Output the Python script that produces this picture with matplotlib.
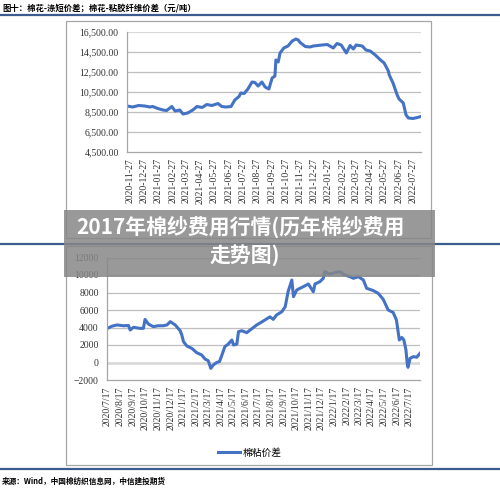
import pandas as pd
import matplotlib
matplotlib.use("Agg")
import matplotlib.pyplot as plt
from matplotlib.patches import Rectangle
from matplotlib.lines import Line2D

plt.rcParams['font.family'] = ['Liberation Serif', 'Noto Sans CJK SC']

# ---- data: cotton vs polyester staple spread (top) ----
top_dates = [
    "2020-11-21", "2020-12-03", "2020-12-16", "2020-12-29", "2021-01-09", "2021-01-15",
    "2021-01-26", "2021-02-06", "2021-02-14", "2021-02-25", "2021-03-04", "2021-03-14",
    "2021-03-21", "2021-03-31", "2021-04-11", "2021-04-20", "2021-05-01", "2021-05-11",
    "2021-05-22", "2021-06-04", "2021-06-12", "2021-06-21", "2021-07-02", "2021-07-10",
    "2021-07-19", "2021-07-23", "2021-07-30", "2021-08-07", "2021-08-16", "2021-08-22",
    "2021-08-29", "2021-09-06", "2021-09-13", "2021-09-21", "2021-09-28", "2021-10-04",
    "2021-10-06", "2021-10-11", "2021-10-15", "2021-10-23", "2021-11-01", "2021-11-10",
    "2021-11-18", "2021-11-23", "2021-11-27", "2021-12-08", "2021-12-18", "2021-12-25",
    "2022-01-04", "2022-01-13", "2022-01-24", "2022-02-06", "2022-02-14", "2022-02-23",
    "2022-03-06", "2022-03-14", "2022-03-21", "2022-03-27", "2022-04-09", "2022-04-17",
    "2022-04-26", "2022-05-07", "2022-05-17", "2022-05-26", "2022-06-04", "2022-06-06",
    "2022-06-14", "2022-06-23", "2022-06-27", "2022-07-06", "2022-07-12", "2022-07-17",
    "2022-07-27", "2022-08-05", "2022-08-13",
]
top_values = [
    9100, 9000, 9150, 9100, 9000, 9050,
    8850, 8700, 8650, 9050, 8600, 8700,
    8300, 8400, 8700, 9050, 8950, 9250,
    9150, 9350, 9050, 9000, 9050, 9700,
    10050, 10400, 10350, 10800, 11500, 11450,
    11100, 11500, 11000, 10800, 11900, 12100,
    13700, 13500, 14400, 14900, 15100, 15600,
    15800, 15700, 15450, 15050, 15000, 15100,
    15150, 15200, 15250, 14900, 15350, 15200,
    14400, 15150, 14800, 15200, 15100, 14700,
    14600, 14200, 13750, 13400, 12600, 12200,
    11400, 10200, 9800, 9400, 8200, 7900,
    7850, 7950, 8050,
]

# ---- data: cotton vs viscose spread (bottom) ----
bot_dates = [
    "2020-07-17", "2020-07-28", "2020-08-09", "2020-08-25", "2020-09-06", "2020-09-10",
    "2020-09-18", "2020-10-04", "2020-10-12", "2020-10-16", "2020-10-24", "2020-11-05",
    "2020-11-17", "2020-11-29", "2020-12-08", "2020-12-16", "2020-12-28", "2021-01-09",
    "2021-01-13", "2021-01-17", "2021-01-25", "2021-02-06", "2021-02-18", "2021-03-02",
    "2021-03-10", "2021-03-18", "2021-03-24", "2021-03-30", "2021-04-07", "2021-04-14",
    "2021-04-20", "2021-04-27", "2021-05-05", "2021-05-14", "2021-05-18", "2021-05-26",
    "2021-05-30", "2021-06-07", "2021-06-19", "2021-06-27", "2021-07-13", "2021-07-29",
    "2021-08-14", "2021-08-22", "2021-08-30", "2021-09-12", "2021-09-20", "2021-09-27",
    "2021-10-06", "2021-10-10", "2021-10-18", "2021-11-03", "2021-11-15", "2021-11-27",
    "2021-12-01", "2021-12-13", "2021-12-21", "2021-12-25", "2022-01-06", "2022-01-18",
    "2022-01-30", "2022-02-11", "2022-02-24", "2022-03-04", "2022-03-16", "2022-03-28",
    "2022-04-05", "2022-04-21", "2022-05-03", "2022-05-15", "2022-05-27", "2022-06-08",
    "2022-06-16", "2022-06-23", "2022-06-29", "2022-07-04", "2022-07-09", "2022-07-12",
    "2022-07-14", "2022-07-19", "2022-07-27", "2022-08-04", "2022-08-12",
]
bot_values = [
    3900, 4150, 4290, 4200, 4230, 3710,
    4020, 3900, 3900, 4930, 4400, 4100,
    4200, 4200, 4290, 4670, 4290, 3630,
    3140, 2380, 1890, 1620, 1120, 860,
    400, 200, -670, -290, 0, 100,
    860, 1810, 2100, 2570, 2000, 2100,
    3520, 3630, 3410, 3710, 4290, 4740,
    5220, 4930, 5430, 5810, 6380, 8090,
    9430, 7520, 8290, 8670, 8970, 8090,
    8970, 9240, 9620, 10380, 10100, 10280,
    10380, 10000, 9800, 9620, 9810, 9430,
    8480, 8220, 7900, 7220, 6000, 5720,
    4860, 2570, 2860, 2570, 1430, -90,
    -550, 480, 670, 600, 1050,
]

top_yticks = [4500, 6500, 8500, 10500, 12500, 14500, 16500]
bot_yticks = [-2000, 0, 2000, 4000, 6000, 8000, 10000, 12000]
top_xticks = pd.date_range("2020-11-27", "2022-07-27", freq=pd.DateOffset(months=1))
bot_xticks = pd.date_range("2020-07-17", "2022-07-17", freq=pd.DateOffset(months=1))

W, H = 500, 488
fig = plt.figure(figsize=(W / 100, H / 100), dpi=100)


def fx(px):
    return px / W


def fy(py):
    return 1 - py / H


blue = '#4472C4'
grid_c = '#bfbfbf'

# chart frames
for x0, y0, x1, y1 in [(66, 21, 431, 238), (66, 246, 432, 465)]:
    fig.patches.append(Rectangle((fx(x0), fy(y1)), fx(x1 - x0), (y1 - y0) / H,
                                 transform=fig.transFigure, fill=False,
                                 edgecolor='#a6a6a6', linewidth=0.9))

# blue separator lines
for py in [15, 244, 469]:
    fig.lines.append(Line2D([0, 1], [fy(py), fy(py)], transform=fig.transFigure,
                            color='#3b5c8f', linewidth=1.6))

# ---- top chart ----
ax1 = fig.add_axes([fx(127), fy(152), fx(294), 120 / H])
ax1.plot(pd.to_datetime(top_dates), top_values, color=blue, linewidth=2.2)
ax1.set_xlim(pd.Timestamp("2020-11-21"), pd.Timestamp("2022-08-13"))
ax1.set_ylim(4500, 16500)
ax1.set_yticks(top_yticks)
ax1.set_yticklabels([f"{v:,.2f}" for v in top_yticks])
ax1.set_xticks(top_xticks)
ax1.set_xticklabels([d.strftime("%Y-%m-%d") for d in top_xticks], rotation=90)
for v in top_yticks[1:]:
    ax1.axhline(v, color='#d9d9d9' if v == 16500 else grid_c,
                linewidth=1.6 if v == 16500 else 0.9, zorder=0)

# ---- bottom chart ----
ax2 = fig.add_axes([fx(107), fy(380), fx(313), 122.5 / H])
ax2.plot(pd.to_datetime(bot_dates), bot_values, color=blue, linewidth=2.2,
         label='棉粘价差')
ax2.set_xlim(pd.Timestamp("2020-07-16"), pd.Timestamp("2022-08-12"))
ax2.set_ylim(-2000, 12000)
ax2.set_yticks(bot_yticks)
ax2.set_xticks(bot_xticks)
ax2.set_xticklabels([f"{d.year}/{d.month}/{d.day}" for d in bot_xticks], rotation=90)
for v in bot_yticks[1:]:
    ax2.axhline(v, color='#d9d9d9' if v == 0 else grid_c,
                linewidth=2.0 if v == 0 else 0.9, zorder=0)

for ax in (ax1, ax2):
    for s in ('top', 'right'):
        ax.spines[s].set_visible(False)
    ax.spines['left'].set_color('#a6a6a6')
    ax.spines['bottom'].set_color('#a6a6a6')
    ax.spines['left'].set_linewidth(0.9)
    ax.spines['bottom'].set_linewidth(0.9)
    ax.tick_params(length=0, labelsize=7, colors='#333333')
    ax.tick_params(axis='y', pad=6)
    ax.tick_params(axis='x', pad=4.5)

leg = ax2.legend(loc='center', bbox_to_anchor=(fx(250), fy(453)),
                 bbox_transform=fig.transFigure, frameon=False, fontsize=7,
                 handlelength=2.2, handletextpad=0.3)

# header / footer
fig.text(fx(2), fy(8), "图十：棉花-涤短价差；棉花-粘胶纤维价差（元/吨）",
         fontsize=6, fontweight='bold', va='center', ha='left',
         family=['Noto Sans CJK SC'])
fig.text(fx(2), fy(481), "来源：Wind，中国棉纺织信息网，中信建投期货",
         fontsize=5.5, fontweight='bold', style='italic', va='center', ha='left',
         family=['Noto Sans CJK SC'])

# grey title banner
fig.patches.append(Rectangle((fx(64), fy(277)), fx(371), 67 / H,
                             transform=fig.transFigure, facecolor='#878787',
                             edgecolor='none', alpha=0.85, zorder=10))
fig.text(fx(241), fy(228), "2017年棉纱费用行情(历年棉纱费用", color='white',
         fontsize=15, fontweight='bold', ha='center', va='center',
         family=['Noto Sans CJK SC'], zorder=11)
fig.text(fx(245), fy(255), "走势图)", color='white',
         fontsize=15, fontweight='bold', ha='center', va='center',
         family=['Noto Sans CJK SC'], zorder=11)

fig.savefig("out.png", dpi=100)
